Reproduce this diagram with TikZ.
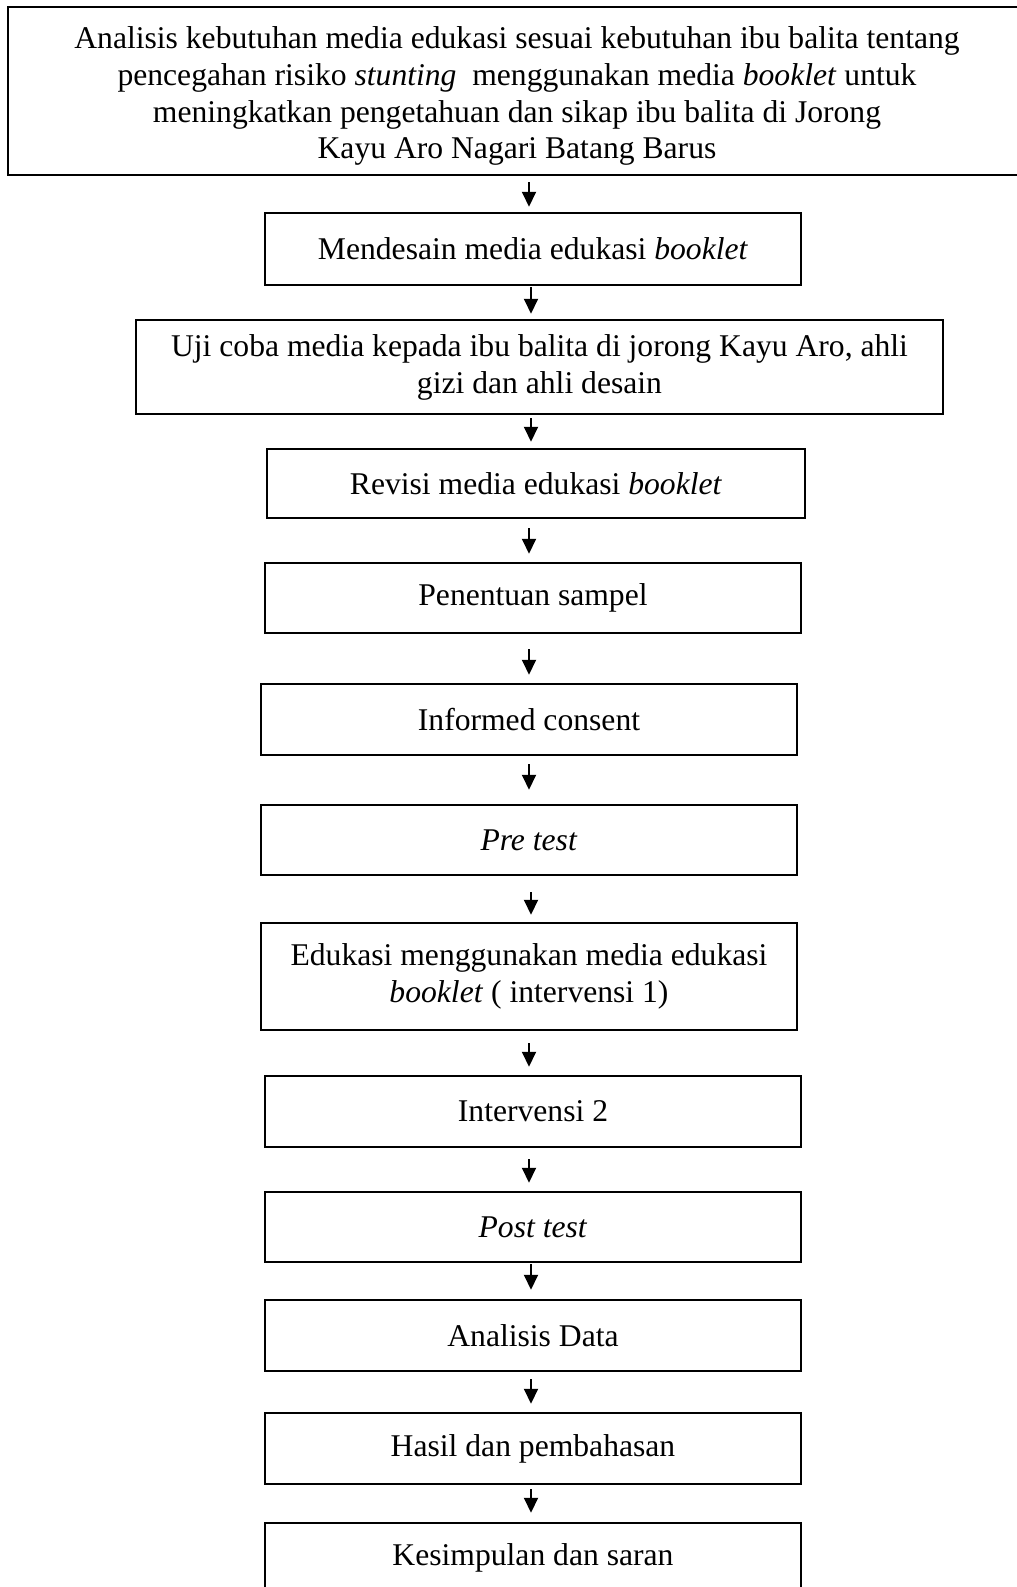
\documentclass[tikz,border=0pt]{standalone}
\usepackage{fontspec}
\setmainfont{Liberation Serif}
\usetikzlibrary{arrows.meta,calc}
\begin{document}
\begin{tikzpicture}[x=0.02cm,y=-0.02cm,
  txt/.style={inner sep=0pt, align=center, font=\fontsize{18}{21}\selectfont},
  box/.style={txt, draw, line width=1.5pt},
  arr/.style={line width=1.1pt, -{Triangle[length=8.5pt,width=8pt]}}]
\clip (0,0) rectangle (1017,1587);
\fill[white] (0,0) rectangle (1017,1587);
\node[box, minimum width=20.44cm, minimum height=3.36cm] (b1) at (519,91) {};
\node[txt] (t1) at (517,96) {Analisis kebutuhan media edukasi sesuai kebutuhan ibu balita tentang\\
pencegahan risiko \textit{stunting}\ \ menggunakan media \textit{booklet} untuk\\
meningkatkan pengetahuan dan sikap ibu balita di Jorong\\
Kayu Aro Nagari Batang Barus};
\node[box, minimum width=10.72cm, minimum height=1.44cm] (b2) at (533,249) {Mendesain media edukasi \textit{booklet}};
\node[box, minimum width=16.14cm, minimum height=1.88cm] (b3) at (539.5,367) {Uji coba media kepada ibu balita di jorong Kayu Aro, ahli\\ gizi dan ahli desain};
\node[box, minimum width=10.76cm, minimum height=1.38cm] (b4) at (536,483.5) {Revisi media edukasi \textit{booklet}};
\node[box, minimum width=10.72cm, minimum height=1.40cm] (b5) at (533,598) {Penentuan sampel};
\node[box, minimum width=10.72cm, minimum height=1.42cm] (b6) at (529,719.5) {Informed consent};
\node[box, minimum width=10.72cm, minimum height=1.40cm] (b7) at (529,840) {\textit{Pre test}};
\node[box, minimum width=10.72cm, minimum height=2.14cm] (b8) at (529,976.5) {Edukasi menggunakan media edukasi\\ \textit{booklet} ( intervensi 1)};
\node[box, minimum width=10.72cm, minimum height=1.42cm] (b9) at (533,1111.5) {Intervensi 2};
\node[box, minimum width=10.72cm, minimum height=1.40cm] (b10) at (533,1227) {\textit{Post test}};
\node[box, minimum width=10.72cm, minimum height=1.42cm] (b11) at (533,1335.5) {Analisis Data};
\node[box, minimum width=10.72cm, minimum height=1.42cm] (b12) at (533,1448.5) {Hasil dan pembahasan};
\node[box, minimum width=10.72cm, minimum height=1.40cm] (b13) at (533,1558) {Kesimpulan dan saran};
\coordinate (xa) at (531,0);
\coordinate (xb) at (529,0);
\draw[arr] ($(b1.south -| xb)+(0,6)$) -- ($(b2.north -| xb)+(0,-5)$);
\draw[arr] ($(b2.south -| xa)+(0,1)$) -- ($(b3.north -| xa)+(0,-5)$);
\draw[arr] ($(b3.south -| xa)+(0,3)$) -- ($(b4.north -| xa)+(0,-6)$);
\draw[arr] ($(b4.south -| xb)+(0,9)$) -- ($(b5.north -| xb)+(0,-8)$);
\draw[arr] ($(b5.south -| xb)+(0,15)$) -- ($(b6.north -| xb)+(0,-8)$);
\draw[arr] ($(b6.south -| xb)+(0,8)$) -- ($(b7.north -| xb)+(0,-14)$);
\draw[arr] ($(b7.south -| xa)+(0,16)$) -- ($(b8.north -| xa)+(0,-7)$);
\draw[arr] ($(b8.south -| xb)+(0,12)$) -- ($(b9.north -| xb)+(0,-8)$);
\draw[arr] ($(b9.south -| xb)+(0,11)$) -- ($(b10.north -| xb)+(0,-8)$);
\draw[arr] ($(b10.south -| xa)+(0,1)$) -- ($(b11.north -| xa)+(0,-9)$);
\draw[arr] ($(b11.south -| xa)+(0,7)$) -- ($(b12.north -| xa)+(0,-8)$);
\draw[arr] ($(b12.south -| xa)+(0,4)$) -- ($(b13.north -| xa)+(0,-9)$);
\end{tikzpicture}
\end{document}
